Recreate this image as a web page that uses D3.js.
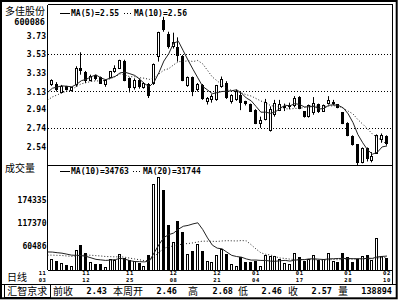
<!DOCTYPE html>
<html><head><meta charset="utf-8">
<script src="https://cdn.jsdelivr.net/npm/d3@7"></script>
<style>
html,body{margin:0;padding:0;background:#fff;}
svg{display:block;}
.mono{font-family:"DejaVu Sans Mono",monospace;font-weight:bold;fill:#000;}
.cjk{font-family:"Noto Sans CJK SC","Noto Sans",sans-serif;fill:#000;}
</style></head><body>
<svg id="c" width="400" height="300"></svg>
<script>
// ---- data ----
const stockName = "多佳股份";
const stockCode = "600086";
const openP  = [3.20,3.21,3.12,3.18,3.14,3.20,3.38,3.33,3.25,3.30,3.28,3.20,3.28,3.34,3.38,3.45,3.27,3.17,3.25,3.17,
                3.21,3.22,3.50,3.89,3.74,3.61,3.60,3.50,3.19,3.28,3.15,3.19,3.02,3.04,3.04,3.18,3.22,3.02,3.04,3.09,
                3.02,2.99,2.93,2.79,2.83,2.71,2.88,2.93,2.96,2.97,2.98,3.07,2.91,2.86,2.90,2.99,2.92,3.00,3.00,2.99,
                2.90,2.79,2.65,2.56,2.37,2.52,2.39,2.46,2.62,2.65];
const highP  = [3.26,3.23,3.20,3.19,3.18,3.40,3.55,3.35,3.31,3.31,3.29,3.26,3.35,3.41,3.47,3.47,3.28,3.27,3.27,3.23,
                3.22,3.43,3.77,3.93,3.77,3.76,3.71,3.52,3.29,3.29,3.22,3.21,3.07,3.10,3.20,3.29,3.24,3.10,3.15,3.12,
                3.03,3.00,2.94,2.86,3.05,2.97,3.04,3.04,3.00,3.01,3.08,3.08,2.92,2.99,3.07,3.00,2.99,3.08,3.04,2.99,
                2.91,2.80,2.66,2.56,2.53,2.53,2.48,2.67,2.68,2.66];
const lowP   = [3.19,3.13,3.11,3.14,3.13,3.18,3.31,3.22,3.24,3.25,3.21,3.18,3.27,3.33,3.37,3.24,3.12,3.15,3.16,3.16,
                3.06,3.20,3.45,3.77,3.59,3.59,3.45,3.24,3.18,3.08,3.13,3.04,2.99,3.01,3.03,3.17,3.05,3.00,3.03,2.93,
                2.98,2.91,2.78,2.74,2.82,2.70,2.86,2.92,2.92,2.94,2.96,2.94,2.85,2.85,2.88,2.90,2.91,2.99,2.98,2.95,
                2.78,2.65,2.55,2.34,2.36,2.38,2.37,2.46,2.58,2.55];
const closeP = [3.25,3.15,3.18,3.15,3.17,3.38,3.35,3.25,3.29,3.27,3.22,3.25,3.34,3.38,3.46,3.25,3.17,3.25,3.18,3.22,
                3.09,3.42,3.76,3.79,3.61,3.66,3.52,3.25,3.28,3.13,3.20,3.06,3.06,3.08,3.19,3.26,3.07,3.09,3.13,3.01,
                3.00,2.92,2.79,2.82,3.01,2.94,3.00,2.99,2.97,2.98,3.06,2.95,2.86,2.98,3.00,2.92,2.98,3.03,3.01,2.96,
                2.79,2.66,2.56,2.37,2.52,2.41,2.43,2.66,2.66,2.57];
const volume = [26700,20700,15700,10800,8300,48100,60600,41700,18200,14300,14000,6800,25000,22500,39200,27500,23200,20000,15000,8800,
                34900,211800,231700,197600,109700,67300,120400,92200,37400,45600,62300,46100,20700,17500,34900,49900,37400,12500,8300,29900,
                18200,18000,20700,8300,34900,33200,33000,26700,16700,12500,40400,32200,21200,27200,35400,23600,25400,42200,21100,18550,
                40500,30500,17736,26300,33000,36200,24500,77894,33000,28000];
// closes / volumes before the first visible bar (needed for the moving averages)
const priorClose  = [2.90,2.93,2.96,2.98,3.00,3.02,3.08,3.12,3.17,3.20];
const priorVolume = [26000,31000,24000,35000,28000,22000,33000,30000,27000,34000,
                     30000,36000,28000,35000,33500,52000,68000,61000,55000,51500];
const priceTicks  = [3.73,3.53,3.33,3.13,2.94,2.74,2.54];
const priceGrid   = [3.53,3.13,2.74];
const volumeTicks = [174335,117370,60486];
const tickMonth = ["11","11","11","12","12","01","01","01","02"];
const tickDay   = ["03","12","25","08","21","04","17","28","10"];
const tickBar   = [-2,7,16,25,34,42,51,61,69];
const statLabels = ["前收","本周开","高","低","收","量"];
const statValues = ["2.43","2.46","2.68","2.46","2.57","138894"];

// ---- layout ----
const svg = d3.select("#c");
const L = 47.5, R = 392.5, T = 4.5, MID = 165, VB = 270;
const n = closeP.length;
const x  = d3.scaleLinear().domain([0, n - 1]).range([52.3, 387]);
const yP = d3.scaleLinear().domain([2.342, 4.062]).range([MID, T]);
const yV = d3.scaleLinear().domain([0, 261600]).range([VB, MID]);
const cx = i => Math.round(x(i));

const defs = svg.append("defs");
defs.append("clipPath").attr("id","clipP").append("rect").attr("x",L).attr("y",T).attr("width",R-L).attr("height",MID-T);
defs.append("clipPath").attr("id","clipV").append("rect").attr("x",L).attr("y",MID).attr("width",R-L).attr("height",VB-MID);

// frames
svg.append("rect").attr("x",1).attr("y",1).attr("width",395.7).attr("height",297.3)
  .attr("fill","none").attr("stroke","#000").attr("stroke-width",2);
const fr = svg.append("g").attr("stroke","#000").attr("stroke-width",1).attr("shape-rendering","crispEdges");
fr.append("line").attr("x1",L).attr("x2",R).attr("y1",T).attr("y2",T);
fr.append("line").attr("x1",R).attr("x2",R).attr("y1",T).attr("y2",284.5);
fr.append("line").attr("x1",L).attr("x2",L).attr("y1",T).attr("y2",VB);
fr.append("line").attr("x1",L).attr("x2",R).attr("y1",MID).attr("y2",MID);
fr.append("line").attr("x1",L).attr("x2",R).attr("y1",VB+0.5).attr("y2",VB+0.5);
fr.append("line").attr("x1",1).attr("x2",397).attr("y1",284.5).attr("y2",284.5);
fr.append("rect").attr("x",4.5).attr("y",284.5).attr("width",45.5).attr("height",12.5).attr("fill","none");

// price grid
svg.append("g").attr("transform",`translate(${L},0)`)
  .call(d3.axisLeft(yP).tickValues(priceGrid).tickSize(-(R-L)).tickFormat(""))
  .call(g => g.select(".domain").remove())
  .call(g => g.selectAll("line").attr("stroke","#000").attr("stroke-dasharray","1,2").attr("shape-rendering","crispEdges"));

// price axis labels
svg.append("g").attr("transform","translate(46,0)")
  .call(d3.axisLeft(yP).tickValues(priceTicks).tickSize(0).tickPadding(0).tickFormat(d3.format(".2f")))
  .call(g => g.select(".domain").remove())
  .call(g => g.selectAll("text").attr("class","mono").attr("font-size",8));

// volume axis labels
svg.append("g").attr("transform","translate(46.5,0)")
  .call(d3.axisLeft(yV).tickValues(volumeTicks).tickSize(0).tickPadding(0).tickFormat(d => String(d)))
  .call(g => g.select(".domain").remove())
  .call(g => g.selectAll("text").attr("class","mono").attr("font-size",8));

// date axis: month row over day row
const dg = svg.append("g");
dg.selectAll("text.m").data(tickBar).join("text").attr("class","mono")
  .attr("font-size",5.5).attr("letter-spacing",0.6).attr("text-anchor","middle")
  .attr("x", d => x(d)).attr("y", 275).text((d,i) => tickMonth[i]);
dg.selectAll("text.d").data(tickBar).join("text").attr("class","mono")
  .attr("font-size",5.5).attr("letter-spacing",0.6).attr("text-anchor","middle")
  .attr("x", d => x(d)).attr("y", 281.6).text((d,i) => tickDay[i]);

// candles
const up = i => closeP[i] >= openP[i];
const cg = svg.append("g").attr("clip-path","url(#clipP)");
const idx = d3.range(n);
cg.selectAll("line.w").data(idx).join("line").attr("class","w")
  .attr("x1", i => cx(i) - 0.5).attr("x2", i => cx(i) - 0.5)
  .attr("y1", i => yP(highP[i])).attr("y2", i => yP(lowP[i]))
  .attr("stroke","#000").attr("stroke-width",1);
cg.selectAll("rect.b").data(idx).join("rect").attr("class","b")
  .attr("shape-rendering","crispEdges")
  .attr("x", i => cx(i) - 1.5).attr("width", 2)
  .attr("y", i => yP(Math.max(openP[i], closeP[i])))
  .attr("height", i => Math.max(0.6, Math.abs(yP(openP[i]) - yP(closeP[i]))))
  .attr("fill", i => up(i) ? "#fff" : "#000").attr("stroke","#000").attr("stroke-width",1);

// volume bars
const vg = svg.append("g").attr("clip-path","url(#clipV)");
vg.selectAll("rect").data(idx).join("rect")
  .attr("shape-rendering","crispEdges")
  .attr("x", i => cx(i) - 1.5).attr("width", 2)
  .attr("y", i => yV(volume[i])).attr("height", i => VB - yV(volume[i]))
  .attr("fill", i => up(i) ? "#fff" : "#000").attr("stroke","#000").attr("stroke-width",1);

// moving averages
function movingAvg(prior, data, k){
  const all = prior.concat(data), off = prior.length, out = [];
  for (let i = -1; i < data.length; i++){
    const j = i + off;
    out.push({i, v: d3.mean(all.slice(j - k + 1, j + 1))});
  }
  return out;
}
const ma5  = movingAvg(priorClose, closeP, 5);
const ma10 = movingAvg(priorClose, closeP, 10);
const vma10 = movingAvg(priorVolume, volume, 10);
const vma20 = movingAvg(priorVolume, volume, 20);
const lineP = d3.line().x(d => x(d.i)).y(d => yP(d.v));
const lineV = d3.line().x(d => x(d.i)).y(d => yV(d.v));
cg.append("path").attr("d", lineP(ma5)).attr("fill","none").attr("stroke","#222").attr("stroke-width",1);
cg.append("path").attr("d", lineP(ma10)).attr("fill","none").attr("stroke","#222").attr("stroke-width",1).attr("stroke-dasharray","1,2");
vg.append("path").attr("d", lineV(vma10)).attr("fill","none").attr("stroke","#222").attr("stroke-width",1);
vg.append("path").attr("d", lineV(vma20)).attr("fill","none").attr("stroke","#222").attr("stroke-width",1).attr("stroke-dasharray","1,2");

// legends
function legend(y, t1, t2, dotX){
  const g = svg.append("g");
  g.append("line").attr("x1",60).attr("x2",70).attr("y1",y).attr("y2",y).attr("stroke","#000");
  g.append("text").attr("class","mono").attr("font-size",8).attr("x",71).attr("y",y).attr("dy","0.35em").text(t1);
  g.append("line").attr("x1",dotX).attr("x2",dotX+9).attr("y1",y).attr("y2",y).attr("stroke","#000").attr("stroke-dasharray","1,2");
  g.append("text").attr("class","mono").attr("font-size",8).attr("x",dotX+10).attr("y",y).attr("dy","0.35em").text(t2);
}
legend(13.5, "MA(5)=" + ma5[ma5.length-1].v.toFixed(2), "MA(10)=" + ma10[ma10.length-1].v.toFixed(2), 124);
legend(171.5, "MA(10)=" + Math.round(vma10[vma10.length-1].v), "MA(20)=" + Math.round(vma20[vma20.length-1].v), 133);

// left column texts
svg.append("text").attr("class","cjk").attr("font-size",10).attr("x",5).attr("y",11).attr("dy","0.35em").text(stockName);
svg.append("text").attr("class","mono").attr("font-size",8.5).attr("x",45).attr("text-anchor","end").attr("y",22).attr("dy","0.35em").text(stockCode);
svg.append("text").attr("class","cjk").attr("font-size",10).attr("x",5).attr("y",168).attr("dy","0.35em").text("成交量");
svg.append("text").attr("class","cjk").attr("font-size",10).attr("x",7).attr("y",277).attr("dy","0.35em").text("日线");

// status bar
svg.append("text").attr("class","cjk").attr("font-size",10).attr("x",27.3).attr("text-anchor","middle").attr("y",291).attr("dy","0.35em").text("汇智京求");
const labX = [53,113,188,238,288,338], valX = [107,177,233,282,332,392];
statLabels.forEach((s,i) => {
  svg.append("text").attr("class","cjk").attr("font-size",10).attr("x",labX[i]).attr("y",291).attr("dy","0.35em").text(s);
  svg.append("text").attr("class","mono").attr("font-size",8.5).attr("x",valX[i]).attr("text-anchor","end").attr("y",291).attr("dy","0.35em").text(statValues[i]);
});
</script>
</body></html>
